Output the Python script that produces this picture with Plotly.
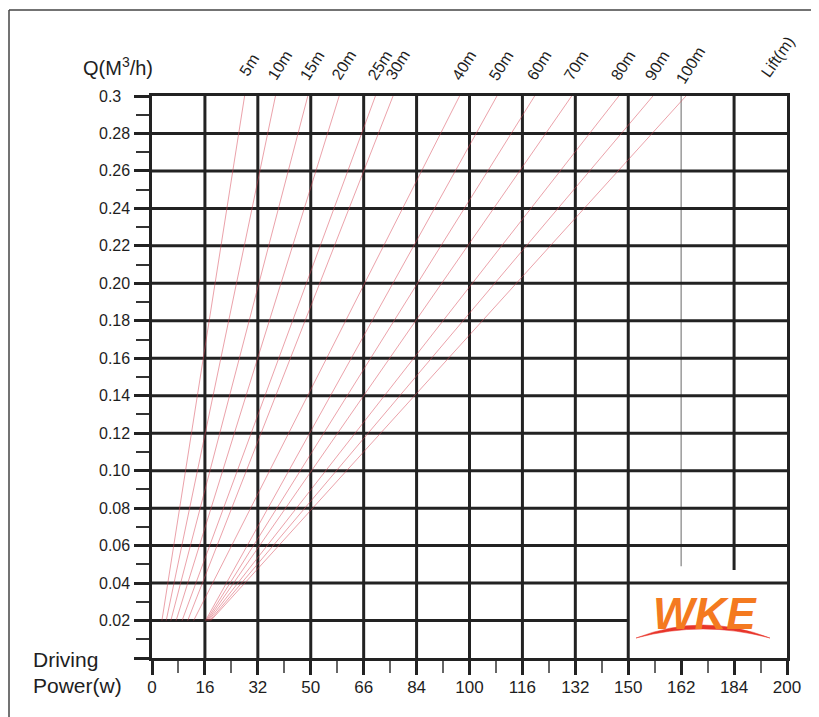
import numpy as np
import plotly.graph_objects as go

# ---------------- data ----------------
power_ticks = [0, 16, 32, 50, 66, 84, 100, 116, 132, 150, 162, 184, 200]
power_labels = ["0", "16", "32", "50", "66", "84", "100", "116", "132", "150", "162", "184", "200"]
q_ticks = [0.02, 0.04, 0.06, 0.08, 0.10, 0.12, 0.14, 0.16, 0.18, 0.20, 0.22, 0.24, 0.26, 0.28, 0.30]
q_labels = ["0.02", "0.04", "0.06", "0.08", "0.10", "0.12", "0.14", "0.16", "0.18", "0.20",
            "0.22", "0.24", "0.26", "0.28", "0.3"]
lift_m = [5, 10, 15, 20, 25, 30, 40, 50, 60, 70, 80, 90, 100]
lift_labels = [f"{v}m" for v in lift_m]
power_at_q_low = [3.0, 4.3, 5.7, 7.3, 9.1, 10.8, 12.6, 16.2, 16.5, 16.8, 17.1, 17.5, 17.8]   # W at Q=0.02
power_at_q_high = [28, 38, 49, 58.6, 70, 76, 97, 108.3, 119.7, 130.9, 146.8, 155.6, 164]    # W at Q=0.3
q_low = 0.02
q_high = 0.30

# ---------------- layout geometry ----------------
OFF = 8                      # page body margin of the browser
W_FIG, H_FIG = 819 - OFF, 717 - OFF
L, R, T, B = 152 - OFF, 40 - OFF, 96 - OFF, 59
PW = W_FIG - L - R
PH = H_FIG - T - B

def px(xp):
    return (xp - OFF - L) / PW

def py(yp):
    return (H_FIG - B - (yp - OFF)) / PH

pos = np.arange(len(power_ticks))

def to_pos(p):
    return np.interp(p, power_ticks, pos)

FONT = "Liberation Sans, Arial, sans-serif"
GRID = "#222222"
TXT = "#1e1e1e"

fig = go.Figure()

# lift lines
for lm, p0, p1 in zip(lift_m, power_at_q_low, power_at_q_high):
    fig.add_trace(go.Scatter(
        x=[to_pos(p0), to_pos(p1)], y=[q_low, q_high], mode="lines",
        line=dict(color="rgba(215,70,85,0.5)", width=1),
        hoverinfo="skip", showlegend=False))

shapes = []
# vertical grid lines
for i in pos[1:-1]:
    if power_ticks[i] == 162:
        shapes.append(dict(type="line", xref="x", yref="y", x0=i, x1=i, y0=0.049, y1=0.3,
                           line=dict(color="#9a9a9a", width=1.5), layer="below"))
    elif power_ticks[i] == 184:
        shapes.append(dict(type="line", xref="x", yref="y", x0=i, x1=i, y0=0.047, y1=0.3,
                           line=dict(color=GRID, width=3), layer="below"))
    else:
        shapes.append(dict(type="line", xref="x", yref="y", x0=i, x1=i, y0=0, y1=0.3,
                           line=dict(color=GRID, width=3), layer="below"))
# horizontal grid lines
for q in q_ticks[:-1]:
    x_end = to_pos(150) if abs(q - 0.02) < 1e-9 else pos[-1]
    shapes.append(dict(type="line", xref="x", yref="y", x0=0, x1=x_end, y0=q, y1=q,
                       line=dict(color=GRID, width=3), layer="below"))

# outer frame of the picture
shapes.append(dict(type="line", xref="paper", yref="paper", x0=px(9), x1=px(9), y0=py(10), y1=py(730),
                   line=dict(color="#444444", width=1.5)))
shapes.append(dict(type="line", xref="paper", yref="paper", x0=px(9), x1=px(830), y0=py(10), y1=py(10),
                   line=dict(color="#444444", width=1.5)))

# logo swoosh (crescent)
x0s, x1s = px(636), px(770)
path = (f"M {x0s},{py(638)} Q {px(703)},{py(612)} {x1s},{py(638)} "
        f"Q {px(703)},{py(620)} {x0s},{py(638)} Z")
shapes.append(dict(type="path", xref="paper", yref="paper", path=path,
                   fillcolor="#E8352A", line=dict(color="#E8352A", width=0.5), layer="above"))

annotations = []
# y tick labels (left aligned like the original)
for q, lab in zip(q_ticks, q_labels):
    annotations.append(dict(xref="paper", yref="y", x=px(97), y=q, text=lab, showarrow=False,
                            xanchor="left", yanchor="middle",
                            font=dict(family=FONT, size=16, color=TXT)))
# lift labels
for p1, lab in zip(power_at_q_high, lift_labels):
    annotations.append(dict(xref="x", yref="y", x=to_pos(p1), y=q_high, text=lab, showarrow=False,
                            xanchor="center", yanchor="middle", xshift=4, yshift=31, textangle=-58,
                            font=dict(family=FONT, size=16, color=TXT)))
annotations.append(dict(xref="paper", yref="paper", x=px(777), y=py(57), text="Lift(m)", showarrow=False,
                        xanchor="center", yanchor="middle", textangle=-55,
                        font=dict(family=FONT, size=16, color=TXT)))
annotations.append(dict(xref="paper", yref="paper", x=px(81), y=py(66), text="Q(M<sup>3</sup>/h)",
                        showarrow=False, xanchor="left", yanchor="middle",
                        font=dict(family=FONT, size=20, color=TXT)))
annotations.append(dict(xref="paper", yref="paper", x=px(31), y=py(659), text="Driving",
                        showarrow=False, xanchor="left", yanchor="middle",
                        font=dict(family=FONT, size=21, color=TXT)))
annotations.append(dict(xref="paper", yref="paper", x=px(31), y=py(685), text="Power(w)",
                        showarrow=False, xanchor="left", yanchor="middle",
                        font=dict(family=FONT, size=21, color=TXT)))
# logo text
annotations.append(dict(xref="paper", yref="paper", x=px(705), y=py(613), text="<b><i>WKE</i></b>",
                        showarrow=False, xanchor="center", yanchor="middle",
                        font=dict(family=FONT, size=44, color="#F47A20")))

minor_x = list(np.arange(0.5, 12, 1.0))
minor_y = list(np.round(np.arange(0.01, 0.30, 0.02), 3))

fig.update_layout(
    width=W_FIG, height=H_FIG,
    margin=dict(l=L, r=R, t=T, b=B, pad=0),
    paper_bgcolor="white", plot_bgcolor="white",
    shapes=shapes, annotations=annotations,
    showlegend=False,
    xaxis=dict(range=[0, 12], tickvals=list(pos), ticktext=power_labels,
               showgrid=False, zeroline=False, showline=True, mirror=True,
               linecolor=GRID, linewidth=3,
               ticks="outside", ticklen=14, tickwidth=3, tickcolor=GRID,
               ticklabelstandoff=-2,
               tickfont=dict(family=FONT, size=17, color=TXT),
               minor=dict(tickvals=minor_x, ticks="outside", ticklen=12, tickwidth=1.5,
                          tickcolor="#666", showgrid=False),
               fixedrange=True),
    yaxis=dict(range=[0, 0.3], tickvals=[0] + q_ticks, showticklabels=False,
               showgrid=False, zeroline=False, showline=True, mirror=True,
               linecolor=GRID, linewidth=3,
               ticks="outside", ticklen=15, tickwidth=3, tickcolor=GRID,
               minor=dict(tickvals=minor_y, ticks="outside", ticklen=13, tickwidth=2,
                          tickcolor="#333", showgrid=False),
               fixedrange=True),
)

fig.write_html("out.html")
